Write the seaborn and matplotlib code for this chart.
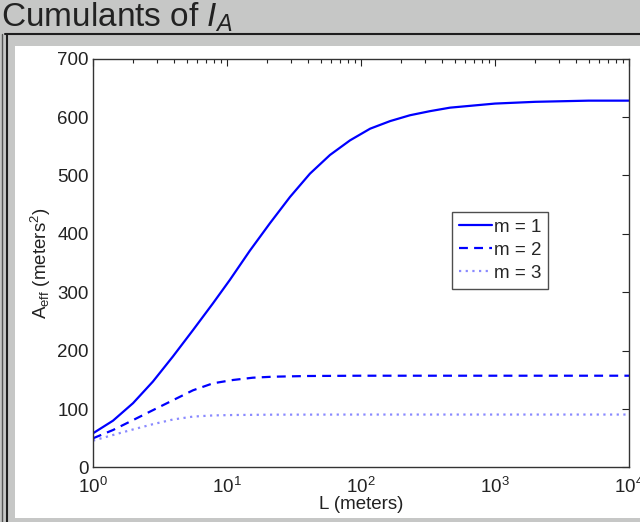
import numpy as np
import pandas as pd
import matplotlib
matplotlib.use("Agg")
import matplotlib.pyplot as plt
from matplotlib.patches import Rectangle
from matplotlib.lines import Line2D
from matplotlib.ticker import LogLocator, FixedLocator, NullFormatter
import seaborn as sns

# Effective area versus length for the first three cumulants
L_m1 = [1, 1.41, 1.99, 2.8, 3.95, 5.57, 7.86, 10.5, 14.8, 20.9, 29.5, 41.6,
        58.7, 82.8, 117, 165, 232, 327, 462, 1000, 2000, 5000, 10000]
A_m1 = [58.4, 80, 110, 147, 190, 235, 281, 321, 371, 418, 463, 503,
        535, 560, 580, 593, 603, 610, 616, 623, 626, 628, 628]

L_m2 = [1, 1.41, 1.99, 2.8, 3.95, 5.57, 7.86, 11.1, 15.6, 22, 40, 100, 1000, 10000]
A_m2 = [49.8, 64, 81, 98, 115, 132, 144, 149.7, 153.6, 155.3, 156.5, 157, 157, 157]

L_m3 = [1, 1.41, 1.99, 2.8, 3.95, 5.57, 7.86, 11.1, 22, 100, 1000, 10000]
A_m3 = [45.8, 55.5, 65, 74, 82, 87, 89, 89.7, 90.3, 90.5, 90.5, 90.5]

series_labels = ["m = 1", "m = 2", "m = 3"]
y_ticks = [0, 100, 200, 300, 400, 500, 600, 700]

sns.set_style("white")
plt.rcParams["font.family"] = ["Liberation Sans", "DejaVu Sans"]
plt.rcParams["mathtext.fontset"] = "custom"
plt.rcParams["mathtext.rm"] = "Liberation Sans"
plt.rcParams["mathtext.it"] = "Liberation Sans:italic"

frames = []
for lab, xs, ys in zip(series_labels, [L_m1, L_m2, L_m3], [A_m1, A_m2, A_m3]):
    frames.append(pd.DataFrame({"L": xs, "A": ys, "series": lab}))
df = pd.concat(frames, ignore_index=True)

W, H = 640, 522
fig = plt.figure(figsize=(W / 100, H / 100), dpi=100)
fig.patch.set_facecolor("#c6c7c6")

# white panel and dark frame lines
fig.add_artist(Rectangle((15 / W, 1 - 518 / H), (640 - 15) / W, (518 - 46) / H,
                         transform=fig.transFigure, facecolor="white",
                         edgecolor="none", zorder=0))
fig.add_artist(Line2D([5 / W, 1], [1 - 33.5 / H, 1 - 33.5 / H],
                      transform=fig.transFigure, color="#1e1e1e", lw=1.5))
fig.add_artist(Line2D([6.5 / W, 6.5 / W], [0, 1 - 33.5 / H],
                      transform=fig.transFigure, color="#1e1e1e", lw=1.5))
fig.add_artist(Line2D([1.5 / W, 1.5 / W], [0, 1 - 33.5 / H],
                      transform=fig.transFigure, color="#555555", lw=1.0))

fig.text(1 / W, 1 - 27 / H, r"Cumulants of $I_A$", fontsize=24,
         color="#222222", ha="left", va="baseline")

x0, x1 = 93, 629
y0, y1 = 58.6, 467.4
ax = fig.add_axes([x0 / W, 1 - y1 / H, (x1 - x0) / W, (y1 - y0) / H])
ax.set_facecolor("white")

styles = {
    "m = 1": dict(color="#0000ff", linestyle="-", linewidth=1.6),
    "m = 2": dict(color="#0000ff", linestyle=(0, (4, 2.8)), linewidth=1.6),
    "m = 3": dict(color="#8a8aff", linestyle=(0, (1, 2)), linewidth=1.6),
}
for lab in series_labels:
    sub = df[df["series"] == lab]
    sns.lineplot(data=sub, x="L", y="A", ax=ax, label=lab, **styles[lab])

ax.set_xscale("log")
ax.set_xlim(1, 1e4)
ax.set_ylim(0, 700)
ax.yaxis.set_major_locator(FixedLocator(y_ticks))
ax.xaxis.set_major_locator(LogLocator(base=10, numticks=10))
ax.xaxis.set_minor_locator(LogLocator(base=10, subs=np.arange(2, 10), numticks=20))
ax.xaxis.set_minor_formatter(NullFormatter())

ax.tick_params(which="both", direction="in", top=True, right=True,
               labelsize=13.5, colors="#222222", width=0.8)
ax.tick_params(which="major", length=5)
ax.tick_params(which="minor", length=3)
ax.tick_params(axis="x", which="major", pad=7)
ax.tick_params(axis="y", which="major", pad=3)
for s in ax.spines.values():
    s.set_color("#333333")
    s.set_linewidth(1.0)
    s.set_visible(True)

ax.set_xlabel("L (meters)", fontsize=13.5, color="#222222", labelpad=-1)
ax.set_ylabel(r"A$_{\rm eff}$ (meters$^2$)", fontsize=13.5, color="#222222", labelpad=3)

leg = ax.legend(loc="upper left",
                bbox_to_anchor=((452 - x0) / (x1 - x0), 1 - (212 - y0) / (y1 - y0)),
                frameon=True, fancybox=False, fontsize=13.5, handlelength=1.8,
                handletextpad=0.1, borderpad=0.35, labelspacing=0.32,
                borderaxespad=0)
leg.get_frame().set_edgecolor("#222222")
leg.get_frame().set_linewidth(1.0)

fig.savefig("out.png", dpi=100, facecolor=fig.get_facecolor())
